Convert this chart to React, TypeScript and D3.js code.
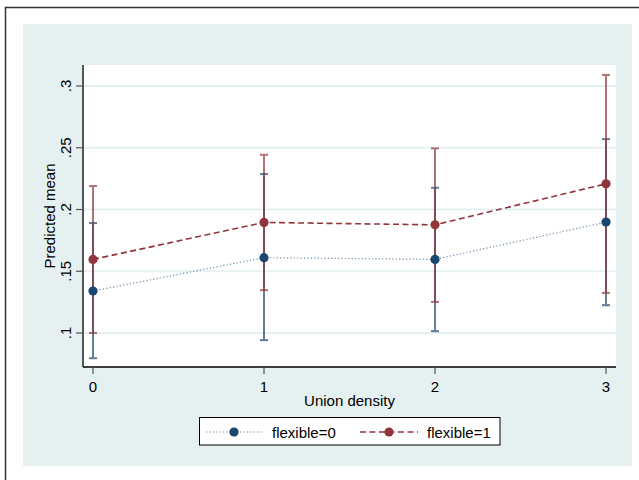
import React from "react";
import * as d3 from "d3";

const categories = [0, 1, 2, 3];
const xTickLabels = ["0", "1", "2", "3"];
const yTicks = [0.1, 0.15, 0.2, 0.25, 0.3];
const yTickLabels = [".1", ".15", ".2", ".25", ".3"];

const flex0Mean = [0.134, 0.161, 0.1596, 0.1898];
const flex0Lo = [0.0796, 0.0942, 0.1015, 0.1225];
const flex0Hi = [0.189, 0.2287, 0.2176, 0.257];

const flex1Mean = [0.1596, 0.1895, 0.1876, 0.2208];
const flex1Lo = [0.1, 0.1347, 0.1252, 0.1325];
const flex1Hi = [0.219, 0.2443, 0.2495, 0.309];

const seriesNames = ["flexible=0", "flexible=1"];

const BLUE = "#1a476f";
const RED = "#90353b";
const FONT = "'Liberation Sans', Arial, Helvetica, sans-serif";
const FS = 15;

export default function App() {
  const W = 639, H = 480;
  const plotL = 83, plotR = 616, plotT = 65, plotB = 367;
  const x = d3.scaleLinear().domain([0, 3]).range([93, 606]);
  const y = d3.scaleLinear().domain([0.1, 0.3]).range([333, 86]);

  const line = d3
    .line<number>()
    .x((_, i) => x(categories[i]))
    .y((d) => y(d));

  const series = [
    { mean: flex0Mean, lo: flex0Lo, hi: flex0Hi, color: BLUE, dash: "1.2,2.2", sw: 1.2, lineColor: "#6a8cad" },
    { mean: flex1Mean, lo: flex1Lo, hi: flex1Hi, color: RED, dash: "6,3.5", sw: 1.6, lineColor: RED },
  ];

  return (
    <svg
      width={W}
      height={H}
      style={{ position: "absolute", left: 0, top: 0, background: "#fff" }}
      fontFamily={FONT}
    >
      <rect x={0} y={0} width={W} height={H} fill="#fff" />
      <rect x={5.5} y={7.5} width={700} height={600} fill="none" stroke="#333" strokeWidth={1.5} />
      <rect x={23} y={24} width={609} height={442} fill="#e5f0f1" />
      <rect x={plotL} y={plotT} width={plotR - plotL} height={plotB - plotT} fill="#fff" />

      {/* gridlines */}
      {yTicks.map((t, i) => (
        <line key={i} x1={plotL} x2={plotR} y1={y(t)} y2={y(t)} stroke="#e6f0f1" strokeWidth={1.8} />
      ))}

      {/* axes */}
      <line x1={plotL} x2={plotL} y1={plotT} y2={plotB} stroke="#000" strokeWidth={1.3} />
      <line x1={plotL} x2={plotR} y1={plotB} y2={plotB} stroke="#000" strokeWidth={1.3} />

      {yTicks.map((t, i) => (
        <g key={i}>
          <line x1={plotL - 7} x2={plotL} y1={y(t)} y2={y(t)} stroke="#555" strokeWidth={1.2} />
          <text
            transform={`translate(${71},${y(t)}) rotate(-90)`}
            textAnchor="middle"
            fontSize={FS}
            fill="#000"
          >
            {yTickLabels[i]}
          </text>
        </g>
      ))}
      {categories.map((c, i) => (
        <g key={i}>
          <line x1={x(c)} x2={x(c)} y1={plotB} y2={plotB + 7} stroke="#555" strokeWidth={1.2} />
          <text x={x(c)} y={391.5} textAnchor="middle" fontSize={FS} fill="#000">
            {xTickLabels[i]}
          </text>
        </g>
      ))}

      <text x={(plotL + plotR) / 2} y={405.5} textAnchor="middle" fontSize={FS} fill="#000">
        Union density
      </text>
      <text
        transform={`translate(${55},${(plotT + plotB) / 2}) rotate(-90)`}
        textAnchor="middle"
        fontSize={FS}
        fill="#000"
      >
        Predicted mean
      </text>

      {/* error bars */}
      {series.map((s, si) => (
        <g key={si} opacity={0.7}>
          {categories.map((c, i) => (
            <g key={i}>
              <line x1={x(c)} x2={x(c)} y1={y(s.lo[i])} y2={y(s.hi[i])} stroke={s.color} strokeWidth={2} />
              <line x1={x(c) - 4} x2={x(c) + 4} y1={y(s.lo[i])} y2={y(s.lo[i])} stroke={s.color} strokeWidth={2} />
              <line x1={x(c) - 4} x2={x(c) + 4} y1={y(s.hi[i])} y2={y(s.hi[i])} stroke={s.color} strokeWidth={2} />
            </g>
          ))}
        </g>
      ))}

      {/* lines and markers */}
      {series.map((s, si) => (
        <g key={si}>
          <path d={line(s.mean) || ""} fill="none" stroke={s.lineColor} strokeWidth={s.sw} strokeDasharray={s.dash} />
          {categories.map((c, i) => (
            <circle key={i} cx={x(c)} cy={y(s.mean[i])} r={4.6} fill={s.color} />
          ))}
        </g>
      ))}

      {/* legend */}
      <rect x={199.5} y={417.5} width={300.5} height={27.5} fill="#fff" stroke="#000" strokeWidth={1} />
      <line x1={206} x2={262} y1={432} y2={432} stroke="#6a8cad" strokeWidth={1.2} strokeDasharray="1.2,2.2" />
      <circle cx={234} cy={432} r={4.6} fill={BLUE} />
      <text x={272} y={437.5} fontSize={FS} fill="#000">{seriesNames[0]}</text>
      <line x1={360} x2={418} y1={432} y2={432} stroke={RED} strokeWidth={1.6} strokeDasharray="6,3.5" />
      <circle cx={389} cy={432} r={4.6} fill={RED} />
      <text x={427} y={437.5} fontSize={FS} fill="#000">{seriesNames[1]}</text>
    </svg>
  );
}
